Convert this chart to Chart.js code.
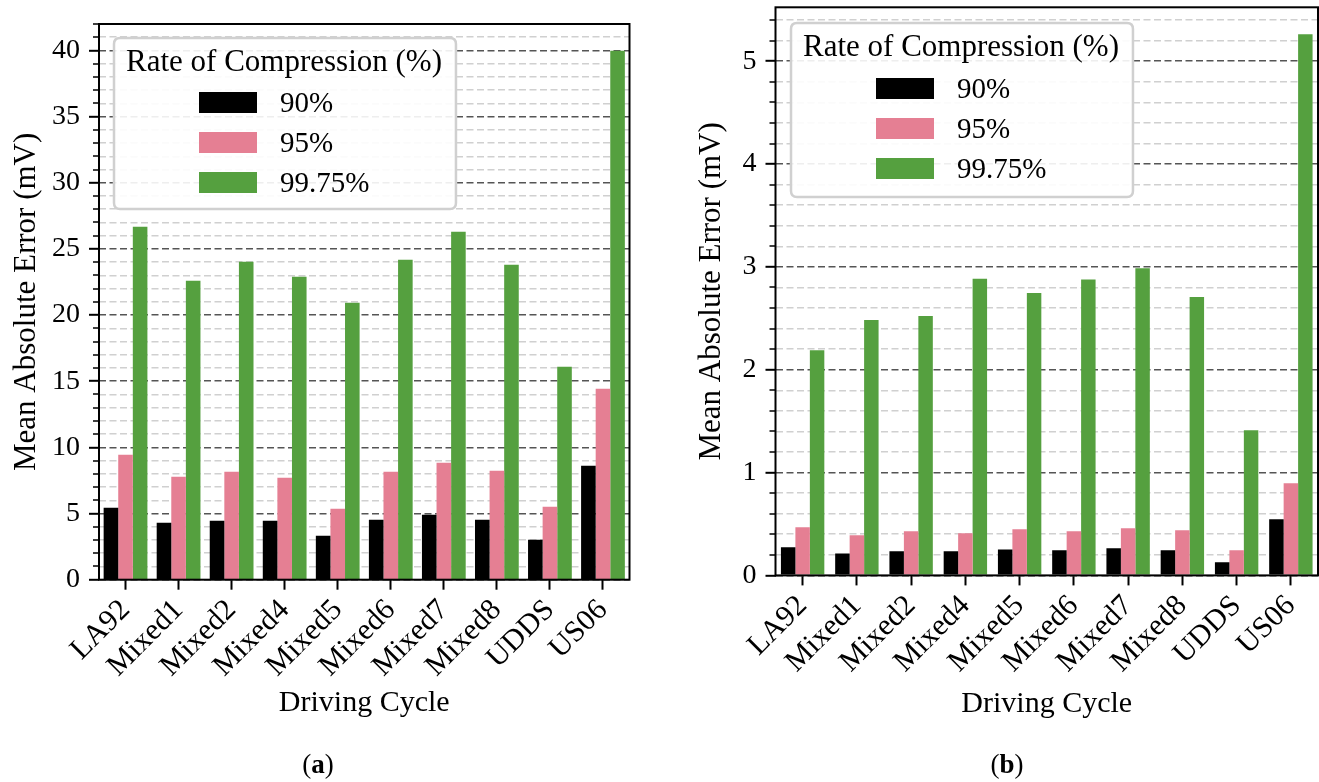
<!DOCTYPE html>
<html>
<head>
<meta charset="utf-8">
<script src="https://cdn.jsdelivr.net/npm/chart.js@4.4.1/dist/chart.umd.min.js"></script>
<style>
  html, body { margin: 0; padding: 0; background: #fff; }
  body { width: 1319px; height: 782px; position: relative; overflow: hidden; }
  canvas { position: absolute; top: 0; }
  #chartA { left: 0; }
  #chartB { left: 660px; }
  .cap { position: absolute; top: 749px; font-family: 'Liberation Serif', serif; font-size: 27px;
         color: #000; transform: translateX(-50%); white-space: nowrap; }
  .cap b { font-weight: bold; }
</style>
</head>
<body>
<canvas id="chartA" width="660" height="782"></canvas>
<canvas id="chartB" width="659" height="782"></canvas>
<div class="cap" style="left:318px">(<b>a</b>)</div>
<div class="cap" style="left:1007px">(<b>b</b>)</div>
<script>
// Driving cycles on the x axis
const cycles = ['LA92', 'Mixed1', 'Mixed2', 'Mixed4', 'Mixed5', 'Mixed6', 'Mixed7', 'Mixed8', 'UDDS', 'US06'];
// Compression rates (one bar series each)
const rates = ['90%', '95%', '99.75%'];

// (a) mean absolute error, mV
const maeA90   = [5.44, 4.31, 4.46, 4.46, 3.32, 4.53, 4.91, 4.53, 3.02, 8.61];
const maeA95   = [9.45, 7.78, 8.16, 7.71, 5.37, 8.16, 8.84, 8.24, 5.52, 14.43];
const maeA9975 = [26.67, 22.60, 24.03, 22.90, 20.93, 24.18, 26.30, 23.80, 16.10, 39.97];

// (b) mean absolute error, mV
const maeB90   = [0.273, 0.214, 0.234, 0.234, 0.253, 0.244, 0.263, 0.244, 0.127, 0.545];
const maeB95   = [0.468, 0.390, 0.429, 0.409, 0.448, 0.429, 0.458, 0.438, 0.244, 0.896];
const maeB9975 = [2.19, 2.484, 2.523, 2.886, 2.747, 2.878, 2.986, 2.708, 1.412, 5.262];

const rateColors = ['#000000', '#E57F93', '#55A03F'];
const FONT = "'Liberation Serif', serif";

function isMajor(v, every) {
  const q = v / every;
  return Math.abs(q - Math.round(q)) < 1e-6;
}

// Axes frame, minor y tick marks and the boxed legend
const frameLegend = {
  id: 'frameLegend',
  afterDraw(chart, args, opts) {
    const { ctx, chartArea: a } = chart;
    const ys = chart.scales.y;
    ctx.save();
    ctx.strokeStyle = '#000';
    ctx.lineWidth = 1.5;
    ys.ticks.forEach(t => {
      if (isMajor(t.value, opts.major)) return;
      const py = Math.round(ys.getPixelForValue(t.value));
      ctx.beginPath();
      ctx.moveTo(a.left - 6, py);
      ctx.lineTo(a.left, py);
      ctx.stroke();
    });
    ctx.lineWidth = 2;
    ctx.strokeRect(a.left, a.top, a.right - a.left, a.bottom - a.top);

    // legend box
    const bx = a.left + opts.dx, by = a.top + opts.dy;
    ctx.font = '31px ' + FONT;
    const tw = ctx.measureText(opts.title).width;
    const bw = tw + 26, bh = opts.h, r = 6;
    ctx.beginPath();
    ctx.moveTo(bx + r, by);
    ctx.lineTo(bx + bw - r, by);
    ctx.quadraticCurveTo(bx + bw, by, bx + bw, by + r);
    ctx.lineTo(bx + bw, by + bh - r);
    ctx.quadraticCurveTo(bx + bw, by + bh, bx + bw - r, by + bh);
    ctx.lineTo(bx + r, by + bh);
    ctx.quadraticCurveTo(bx, by + bh, bx, by + bh - r);
    ctx.lineTo(bx, by + r);
    ctx.quadraticCurveTo(bx, by, bx + r, by);
    ctx.closePath();
    ctx.fillStyle = 'rgba(255,255,255,0.9)';
    ctx.fill();
    ctx.strokeStyle = '#d0d0d0';
    ctx.lineWidth = 2.5;
    ctx.stroke();

    ctx.fillStyle = '#000';
    ctx.textAlign = 'left';
    ctx.textBaseline = 'middle';
    ctx.fillText(opts.title, bx + 12, by + 25);
    ctx.font = '29px ' + FONT;
    chart.data.datasets.forEach((ds, i) => {
      const ry = by + opts.row0 + i * 40;
      ctx.fillStyle = ds.backgroundColor;
      ctx.fillRect(bx + 85, ry, 58, 21);
      ctx.fillStyle = '#000';
      ctx.fillText(ds.label, bx + 166, ry + 12);
    });
    ctx.restore();
  }
};

function makeChart(id, s90, s95, s9975, cfg) {
  return new Chart(document.getElementById(id), {
    type: 'bar',
    data: {
      labels: cycles,
      datasets: [
        { label: rates[0], data: s90,   backgroundColor: rateColors[0] },
        { label: rates[1], data: s95,   backgroundColor: rateColors[1] },
        { label: rates[2], data: s9975, backgroundColor: rateColors[2] }
      ]
    },
    options: {
      responsive: false,
      animation: false,
      devicePixelRatio: 1,
      layout: { padding: { left: 0, top: cfg.top, right: cfg.right, bottom: cfg.bottom } },
      datasets: { bar: { categoryPercentage: cfg.catPct, barPercentage: 1, borderWidth: 0 } },
      plugins: {
        legend: { display: false },
        tooltip: { enabled: false },
        frameLegend: { major: cfg.major, title: 'Rate of Compression (%)', dx: cfg.lgDx, dy: cfg.lgDy, h: cfg.lgH, row0: cfg.lgRow0 }
      },
      scales: {
        x: {
          offset: true,
          grid: { offset: false, drawOnChartArea: false, drawTicks: true, tickLength: 10, tickWidth: 2, tickColor: '#000' },
          border: { display: false },
          ticks: { color: '#000', font: { family: FONT, size: 30 }, minRotation: 45, maxRotation: 45, padding: 3, autoSkip: false },
          title: { display: true, text: 'Driving Cycle', color: '#000', font: { family: FONT, size: 30 }, padding: 0 },
          afterFit: s => {
            s.height = cfg.xHeight;
            s.paddingLeft = 0; s.paddingRight = 0; s.paddingTop = 0; s.paddingBottom = 0;
          }
        },
        y: {
          min: 0,
          max: cfg.max,
          ticks: {
            stepSize: cfg.step, autoSkip: false, includeBounds: false, maxTicksLimit: 1000,
            color: '#000', font: { family: FONT, size: 28 }, padding: 9,
            callback: v => isMajor(v, cfg.major) ? String(Math.round(v)) : ''
          },
          grid: {
            color: c => isMajor(c.tick.value, cfg.major) ? '#555555' : '#d0d0d0',
            lineWidth: 1.6,
            tickLength: 10,
            tickWidth: 2,
            tickColor: c => isMajor(c.tick.value, cfg.major) ? '#000' : 'rgba(0,0,0,0)'
          },
          border: { display: false, dash: [7, 3.5] },
          title: { display: true, text: 'Mean Absolute Error (mV)', color: '#000', font: { family: FONT, size: 31 }, padding: { top: cfg.yTitlePad, bottom: 0 } },
          afterFit: s => {
            s.width = cfg.yWidth;
            s.paddingLeft = 0; s.paddingRight = 0; s.paddingTop = 0; s.paddingBottom = 0;
          }
        }
      }
    },
    plugins: [frameLegend]
  });
}

makeChart('chartA', maeA90, maeA95, maeA9975, {
  max: 42, step: 1, major: 5, catPct: 0.825,
  top: 24, right: 30.5, bottom: 61, xHeight: 141.3, yWidth: 99, yTitlePad: 8,
  lgDx: 15, lgDy: 14, lgH: 171, lgRow0: 54
});

makeChart('chartB', maeB90, maeB95, maeB9975, {
  max: 5.525, step: 0.2, major: 1, catPct: 0.8,
  top: 7.3, right: 1, bottom: 60.3, xHeight: 146.3, yWidth: 115.5, yTitlePad: 33,
  lgDx: 15.5, lgDy: 15.7, lgH: 174, lgRow0: 55
});
</script>
</body>
</html>
